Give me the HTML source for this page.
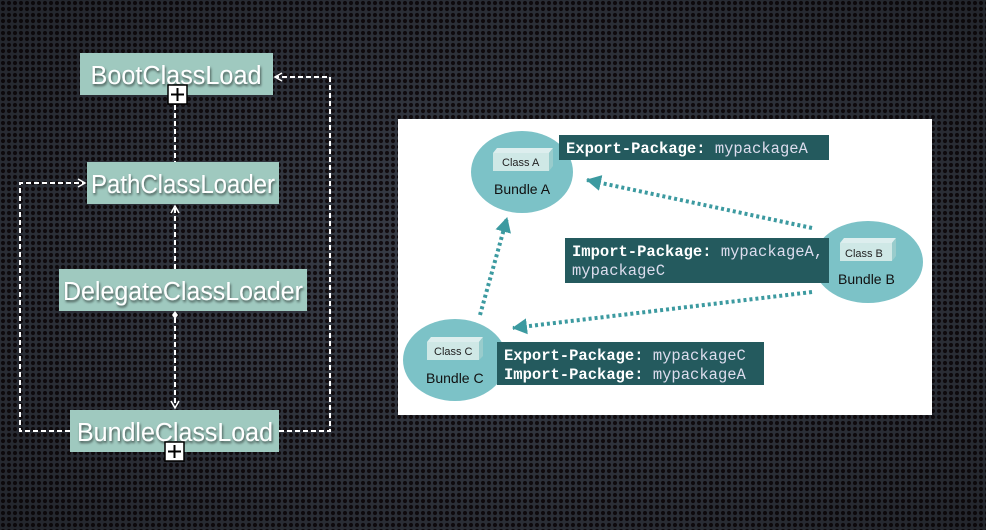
<!DOCTYPE html>
<html><head><style>
html,body{margin:0;padding:0;width:986px;height:530px;overflow:hidden;background:#1a1619;}
svg{display:block}
.lbl{font-family:"Liberation Sans",sans-serif;fill:#fff;font-size:25.5px;}
.mono{font-family:"Liberation Mono",monospace;font-size:15.5px;fill:#fff;}
.sans{font-family:"Liberation Sans",sans-serif;}
</style></head><body>
<svg width="986" height="530" viewBox="0 0 986 530" xmlns="http://www.w3.org/2000/svg">
<defs>
<pattern id="mesh" width="6" height="6" patternUnits="userSpaceOnUse">
<rect width="6" height="6" fill="#3a3f4a"/>
<circle cx="3" cy="3" r="2.1" fill="#140e12"/>
</pattern>
<radialGradient id="vig" cx="0.5" cy="0.5" r="0.7">
<stop offset="0" stop-color="#000" stop-opacity="0"/>
<stop offset="1" stop-color="#000" stop-opacity="0.4"/>
</radialGradient>
<filter id="ts"><feDropShadow dx="1" dy="2" stdDeviation="1.2" flood-color="#000" flood-opacity="0.6"/></filter>
<marker id="ah" markerWidth="10" markerHeight="10" refX="8" refY="5" orient="auto" markerUnits="userSpaceOnUse">
<path d="M1,1 L8,5 L1,9" fill="none" stroke="#fff" stroke-width="1.5"/></marker>
<marker id="tah" markerWidth="18" markerHeight="18" refX="14" refY="8" orient="auto" markerUnits="userSpaceOnUse">
<path d="M0,0 L15,8 L0,16 Z" fill="#3c9aa0"/></marker>
</defs>
<rect width="986" height="530" fill="url(#mesh)"/>
<rect width="986" height="530" fill="url(#vig)"/>

<g stroke="#fff" stroke-width="2" stroke-dasharray="5,3" fill="none">
<polyline points="279,431 330,431 330,77 275,77" marker-end="url(#ah)"/>
<polyline points="70,431 20,431 20,183 85,183" marker-end="url(#ah)"/>
<line x1="175" y1="105" x2="175" y2="162"/>
<line x1="175" y1="269" x2="175" y2="206" marker-end="url(#ah)"/>
<line x1="175" y1="318" x2="175" y2="408" marker-end="url(#ah)"/>
</g>
<path d="M175,311 L178,315 L175,319 L172,315 Z" fill="#fff"/>

<g fill="#9fc9bf">
<rect x="80" y="53" width="193" height="42"/>
<rect x="87" y="162" width="192" height="42"/>
<rect x="59" y="269" width="248" height="42"/>
<rect x="70" y="410" width="209" height="42"/>
</g>
<g class="lbl" filter="url(#ts)" text-anchor="middle">
<text x="176" y="84" textLength="171" lengthAdjust="spacingAndGlyphs">BootClassLoad</text>
<text x="183" y="193" textLength="184" lengthAdjust="spacingAndGlyphs">PathClassLoader</text>
<text x="183" y="300" textLength="240" lengthAdjust="spacingAndGlyphs">DelegateClassLoader</text>
<text x="175" y="441" textLength="196" lengthAdjust="spacingAndGlyphs">BundleClassLoad</text>
</g>
<g stroke="#000" stroke-width="1.5">
<rect x="168" y="85" width="19" height="19" fill="#fff"/>
<line x1="171" y1="94.5" x2="184" y2="94.5" stroke-width="2"/><line x1="177.5" y1="88" x2="177.5" y2="101" stroke-width="2"/>
<rect x="165" y="442" width="19" height="19" fill="#fff"/>
<line x1="168" y1="451.5" x2="181" y2="451.5" stroke-width="2"/><line x1="174.5" y1="445" x2="174.5" y2="458" stroke-width="2"/>
</g>

<rect x="398" y="119" width="534" height="296" fill="#fff"/>
<g fill="#7cc2c7">
<ellipse cx="522" cy="172" rx="51" ry="41"/>
<ellipse cx="868" cy="262" rx="55" ry="41"/>
<ellipse cx="455" cy="360" rx="52" ry="41"/>
</g>
<g stroke="#3c9aa0" stroke-width="4" stroke-dasharray="3,3" fill="none">
<line x1="812" y1="228" x2="587" y2="180" marker-end="url(#tah)"/>
<line x1="812" y1="292" x2="513" y2="328" marker-end="url(#tah)"/>
<line x1="480" y1="315" x2="507" y2="218" marker-end="url(#tah)"/>
</g>
<g class="sans" font-size="11" fill="#222">
<polygon points="493,153 497,148 553,148 549,153" fill="#ddeeee"/><polygon points="549,153 553,148 553,166 549,171" fill="#9cc"/><rect x="493" y="153" width="56" height="18" fill="#cfe8e6"/><text x="502" y="166">Class A</text>
<polygon points="840,243 844,238 896,238 892,243" fill="#ddeeee"/><polygon points="892,243 896,238 896,256 892,261" fill="#9cc"/><rect x="840" y="243" width="52" height="18" fill="#cfe8e6"/><text x="845" y="257">Class B</text>
<polygon points="427,342 431,337 483,337 479,342" fill="#ddeeee"/><polygon points="479,342 483,337 483,356 479,360" fill="#9cc"/><rect x="427" y="342" width="52" height="18" fill="#cfe8e6"/><text x="434" y="355">Class C</text>
</g>
<g class="sans" font-size="14" fill="#111">
<text x="494" y="194">Bundle A</text>
<text x="838" y="284">Bundle B</text>
<text x="426" y="383">Bundle C</text>
</g>
<g fill="#245a5e">
<rect x="559" y="135" width="270" height="25"/>
<rect x="565" y="238" width="264" height="45"/>
<rect x="497" y="342" width="267" height="43"/>
</g>
<g class="mono">
<text x="566" y="153"><tspan font-weight="bold">Export-Package:</tspan><tspan fill="#dde"> mypackageA</tspan></text>
<text x="572" y="256"><tspan font-weight="bold">Import-Package:</tspan><tspan fill="#dde"> mypackageA,</tspan></text>
<text x="572" y="275" fill="#dde"> mypackageC</text>
<text x="504" y="360"><tspan font-weight="bold">Export-Package:</tspan><tspan fill="#dde"> mypackageC</tspan></text>
<text x="504" y="379"><tspan font-weight="bold">Import-Package:</tspan><tspan fill="#dde"> mypackageA</tspan></text>
</g>
</svg>
</body></html>
